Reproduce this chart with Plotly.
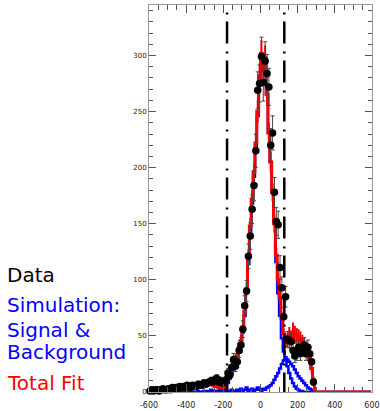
import plotly.graph_objects as go

# ---------------- data ----------------
data_centers = list(range(-595, 290, 10))  # bin centres of the data histogram
data_counts = [
    1, 2, 1, 2, 2, 1, 2, 3, 2, 2,
    3, 2, 4, 3, 4, 3, 5, 4, 5, 4,
    6, 5, 4, 6, 5, 5, 7, 6, 6, 8,
    7, 8, 9, 10, 9, 11, 12, 9, 10, 8,
    9, 11, 17, 15, 22, 29, 23, 27, 37, 42,
    56, 77, 90, 121, 139, 163, 184, 215, 269, 275,
    299, 276, 295, 284, 272, 220, 231, 178, 152, 149,
    111, 93, 67, 85, 47, 46, 45, 37, 32, 34,
    40, 34, 39, 42, 34, 40, 34, 27, 9,
]
data_errors = [
    1.0, 1.4, 1.0, 1.4, 1.4, 1.0, 1.4, 1.7, 1.4, 1.4,
    1.7, 1.4, 2.0, 1.7, 2.0, 1.7, 2.2, 2.0, 2.2, 2.0,
    2.4, 2.2, 2.0, 2.4, 2.2, 2.2, 2.6, 2.4, 2.4, 2.8,
    2.6, 2.8, 3.0, 3.2, 3.0, 3.3, 3.5, 3.0, 3.2, 2.8,
    3.0, 3.3, 4.1, 3.9, 4.7, 5.4, 4.8, 5.2, 6.1, 6.5,
    7.5, 8.8, 9.5, 11.0, 11.8, 12.8, 13.6, 14.7, 16.4, 16.6,
    17.3, 16.6, 17.2, 16.9, 16.5, 14.8, 15.2, 13.3, 12.3, 12.2,
    10.5, 9.6, 8.2, 9.2, 6.9, 6.8, 6.7, 6.1, 5.7, 5.8,
    6.3, 5.8, 6.2, 6.5, 5.8, 6.3, 5.8, 5.2, 3.0,
]

fit_centers = list(range(-595, 600, 10))  # bin centres of the simulated / fitted histograms
total_fit = [
    1, 1, 2, 1, 2, 2, 2, 2, 3, 2,
    3, 3, 3, 3, 4, 3, 4, 4, 4, 5,
    5, 4, 5, 5, 6, 5, 6, 6, 7, 6,
    7, 7, 8, 7, 6, 5, 5, 4, 5, 4,
    6, 9, 13, 17, 21, 25, 29, 33, 40, 46,
    58, 72, 92, 120, 148, 172, 196, 222, 250, 282,
    302, 290, 298, 265, 231, 205, 178, 150, 122, 100,
    84, 66, 52, 44, 46, 50, 48, 53, 51, 50,
    49, 47, 45, 42, 39, 34, 29, 21, 11, 0,
    0, 0, 0, 0, 0, 0, 0, 0, 0, 0,
    0, 0, 0, 0, 0, 0, 0, 0, 0, 0,
    0, 0, 0, 0, 0, 0, 0, 0, 0, 0,
]
total_fit_err = [
    1, 1, 1, 1, 1, 1, 1, 1, 1, 1,
    1, 1, 1, 1, 1, 1, 1, 1, 1, 1,
    1, 1, 1, 1, 1, 1, 1, 1, 1, 1,
    1, 1, 1, 1, 1, 1, 1, 1, 1, 1,
    2, 2, 3, 3, 3, 4, 4, 4, 5, 5,
    5, 6, 6, 7, 7, 8, 8, 9, 10, 11,
    12, 11, 11, 10, 9, 9, 8, 8, 7, 6,
    6, 5, 5, 5, 6, 8, 7, 9, 8, 7,
    7, 7, 6, 6, 6, 5, 5, 4, 3, 0,
    0, 0, 0, 0, 0, 0, 0, 0, 0, 0,
    0, 0, 0, 0, 0, 0, 0, 0, 0, 0,
    0, 0, 0, 0, 0, 0, 0, 0, 0, 0,
]
sim_signal = [
    0, 0, 0, 0, 0, 0, 0, 0, 0, 0,
    0, 0, 0, 0, 0, 0, 0, 0, 0, 0,
    0, 0, 0, 0, 0, 0, 0, 0, 0, 0,
    0, 0, 0, 0, 0,
    1, 1, 1, 2, 2, 3, 5, 8, 12, 16,
    20, 24, 29, 35, 42, 53, 68, 88, 114, 142,
    168, 192, 218, 246, 276, 296, 286, 294, 265, 231,
    205, 178, 150, 116, 88, 68, 48, 36, 29, 23,
    17, 12, 8, 5, 3, 2, 1, 1, 0,
    0, 0, 0, 0, 0, 0, 0, 0, 0, 0,
    0, 0, 0, 0, 0, 0, 0, 0, 0, 0,
    0, 0, 0, 0, 0, 0, 0, 0, 0, 0,
    0, 0, 0, 0, 0, 0,
]
sim_background = [
    0, 0, 0, 0, 0, 0, 0, 0, 0, 0,
    0, 0, 0, 0, 0, 0, 0, 0, 0, 0,
    0, 0, 0, 0, 0, 0,
    1, 0, 0, 1, 0, 1, 0, 2, 0, 1,
    0, 1, 2, 0, 1, 3, 0, 1, 2, 1,
    0, 2, 1, 3, 1, 2, 4, 1, 2, 3,
    1, 2, 4, 2, 1, 3, 2, 4, 5, 6,
    8, 11, 14, 17, 21, 25, 28, 31, 29, 27,
    25, 23, 20, 17, 14, 12, 10, 8, 6, 4,
    3, 2, 1,
    0, 0, 0, 0, 0, 0, 0, 0, 0, 0,
    0, 0, 0, 0, 0, 0, 0, 0, 0, 0,
    0, 0, 0, 0, 0, 0, 0, 0, 0, 0,
    0,
]
cut_positions = [-180, 128]

x_tick_vals = [-600, -400, -200, 0, 200, 400, 600]
x_tick_text = ["-600", "-400", "-200", "0", "200", "400", "600"]
y_tick_vals = [0, 50, 100, 150, 200, 250, 300]
y_tick_text = ["0", "50", "100", "150", "200", "250", "300"]

legend_lines = ["Data", "Simulation:", "Signal &", "Background", "Total Fit"]
legend_colors = ["black", "#0000ff", "#0000ff", "#0000ff", "#ff0000"]
legend_y = [0.303, 0.224, 0.160, 0.103, 0.024]

# ---------------- figure ----------------
fig = go.Figure()

fig.add_trace(go.Scatter(
    x=fit_centers, y=sim_background, mode="lines", line_shape="hvh",
    line=dict(color="#0000ff", width=2.5), showlegend=False, hoverinfo="skip"))
fig.add_trace(go.Scatter(
    x=fit_centers, y=sim_signal, mode="lines", line_shape="hvh",
    line=dict(color="#0000ff", width=2.5), showlegend=False, hoverinfo="skip"))
fig.add_trace(go.Scatter(
    x=fit_centers, y=total_fit, mode="lines", line_shape="hvh",
    line=dict(color="#ff0000", width=3),
    error_y=dict(type="data", array=total_fit_err, color="#ff0000", thickness=2, width=0),
    showlegend=False, hoverinfo="skip"))
fig.add_trace(go.Scatter(
    x=data_centers, y=data_counts, mode="markers",
    marker=dict(color="black", size=7.5),
    error_y=dict(type="data", array=data_errors, color="#444444", thickness=1, width=2),
    showlegend=False, cliponaxis=False))

for cx in cut_positions:
    fig.add_shape(type="line", xref="x", yref="paper", x0=cx, x1=cx, y0=0.9806, y1=0,
                  line=dict(color="black", width=2.5, dash="2px,7px,22px,8px"))

for txt, col, yy in zip(legend_lines, legend_colors, legend_y):
    fig.add_annotation(text=txt, xref="paper", yref="paper", x=-0.646, y=yy,
                       xanchor="left", yanchor="middle", showarrow=False,
                       font=dict(family="DejaVu Sans", size=20, color=col))

axis_common = dict(
    showgrid=False, zeroline=False, showline=True, linecolor="#999999", linewidth=1,
    mirror="allticks", ticks="inside", tickcolor="#555555", tickwidth=1,
    automargin=False,
)
fig.update_xaxes(**axis_common, range=[-600, 600], tickmode="array",
                 tickvals=x_tick_vals, ticktext=x_tick_text, ticklen=8,
                 ticklabelstandoff=5,
                 tickfont=dict(family="DejaVu Sans", size=8, color="#222222"),
                 minor=dict(tickmode="linear", tick0=0, dtick=50, ticklen=5,
                            ticks="inside", tickcolor="#555555"))
fig.update_yaxes(**axis_common, range=[0, 345], tickmode="array",
                 tickvals=y_tick_vals, ticktext=y_tick_text, ticklen=7,
                 tickfont=dict(family="DejaVu Sans", size=7, color="#222222"),
                 minor=dict(tickmode="linear", tick0=0, dtick=10, ticklen=4,
                            ticks="inside", tickcolor="#555555"))

fig.update_layout(
    width=380, height=411, margin=dict(l=149, r=8, t=5, b=19),
    paper_bgcolor="white", plot_bgcolor="white", showlegend=False,
    font=dict(family="DejaVu Sans"),
)

fig.write_html("out.html")
